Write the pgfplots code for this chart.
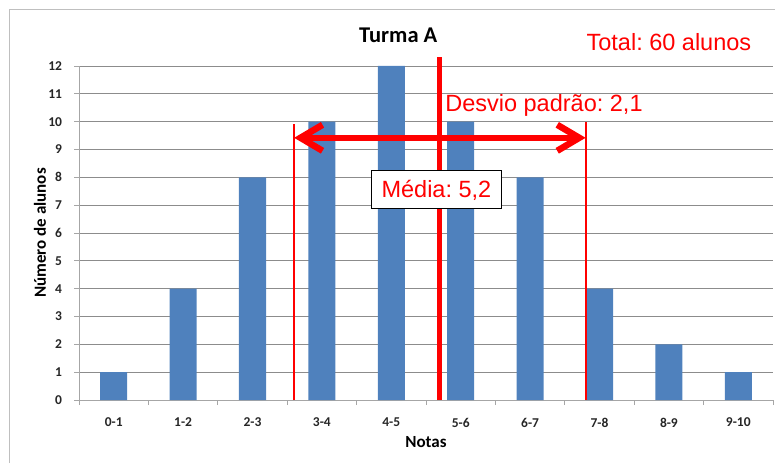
\documentclass[border=0pt]{standalone}
\usepackage{fontspec}
\setmainfont{Carlito}
\newfontfamily\arial{Liberation Sans}
\usepackage{pgfplots}
\pgfplotsset{compat=1.18}
\usetikzlibrary{arrows.meta}
\definecolor{barblue}{HTML}{4F81BD}
\definecolor{gridgray}{HTML}{8C8C8C}
\definecolor{axisgray}{HTML}{A6A6A6}
\definecolor{framegray}{HTML}{BFBFBF}
\definecolor{annred}{HTML}{FF0000}
\frenchspacing

\begin{document}
\begin{tikzpicture}
\begin{axis}[
  at={(0pt,0pt)}, anchor=south west,
  scale only axis, width=694pt, height=334pt,
  xmin=0, xmax=10, ymin=0, ymax=12,
  axis x line=bottom, axis y line=left,
  axis line style={-, draw=axisgray, line width=0.9pt},
  tick align=outside, major tick length=5pt,
  tick style={axisgray, line width=0.9pt},
  xtick={0,...,10},
  xticklabels={0-1,1-2,2-3,3-4,4-5,5-6,6-7,7-8,8-9,9-10,{}},
  xticklabel style={xshift=34.7pt, yshift=-9.5pt},
  ytick={0,...,12},
  yticklabel style={xshift=-8.5pt},
  ymajorgrids, major grid style={gridgray, line width=0.8pt},
  ticklabel style={font=\bfseries\fontsize{13.5}{15}\selectfont, text=black!85},
  /pgf/number format/assume math mode=true,
  xlabel={Notas}, ylabel={Número de alunos},
  label style={font=\bfseries\fontsize{17}{20}\selectfont},
  xlabel style={at={(axis description cs:0.5,-0.1257)}, anchor=center},
  ylabel style={at={(axis description cs:-0.0562,0.5)}, anchor=center},
  clip=false,
]
% distribution of grades
\addplot[ybar, bar width=0.39, fill=barblue, draw=none] coordinates {
  (0.5,1) (1.5,4) (2.5,8) (3.5,10) (4.5,12)
  (5.5,10) (6.5,8) (7.5,4) (8.5,2) (9.5,1)
};
% mean minus / plus one standard deviation (5.2 -/+ 2.1)
\addplot[annred, line width=2.2pt, mark=none] coordinates {(3.1,0) (3.1,9.93)};
\addplot[annred, line width=2.2pt, mark=none] coordinates {(7.3,0) (7.3,9.98)};
\addplot[annred, line width=6.5pt, mark=none,
  {Straight Barb[length=22pt,width=26pt]}-{Straight Barb[length=22pt,width=26pt]}]
  coordinates {(3.1,9.42) (7.3,9.42)};
% mean
\addplot[annred, line width=5pt, mark=none] coordinates {(5.2,0) (5.2,12.34)};

\node[font=\bfseries\fontsize{22.5}{26}\selectfont] at (axis description cs:0.46,1.093) {Turma A};
\node[font=\arial\fontsize{23.5}{28}\selectfont, text=annred] at (8.5,12.86) {Total: 60 alunos};
\node[font=\arial\fontsize{23.5}{28}\selectfont, text=annred] at (6.7,10.6) {Desvio padrão: 2,1};
\node[font=\arial\fontsize{23.5}{28}\selectfont, text=annred, fill=white, draw=black,
  line width=0.8pt, inner xsep=10pt, minimum height=38pt] at (5.15,7.55) {Média: 5,2};
\end{axis}
\draw[framegray, line width=1pt] (-69pt,-63pt) -- (-69pt,390pt) -- (696pt,390pt);
\pgfresetboundingbox
\path[use as bounding box] (-79pt,-63pt) rectangle (696pt,400pt);
\end{tikzpicture}
\end{document}
